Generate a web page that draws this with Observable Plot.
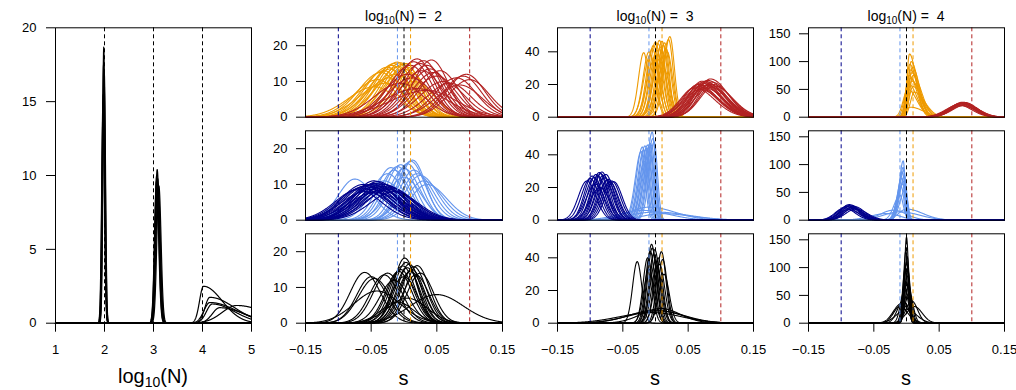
<!DOCTYPE html>
<html><head><meta charset="utf-8">
<script src="https://cdn.jsdelivr.net/npm/d3@7"></script>
<script src="https://cdn.jsdelivr.net/npm/@observablehq/plot@0.6"></script>
<style>
body{margin:0;background:#fff;}
#wrap{position:relative;width:1016px;height:390px;overflow:hidden;background:#fff;}
#wrap svg{position:absolute;left:0;top:0;}
</style></head><body><div id="wrap"></div><script>
// ---------- data ----------
// each curve: [mode, peak density, left spread, right spread]
const logNTicks = [1, 2, 3, 4, 5];
const leftDensTicks = [0, 5, 10, 15, 20];
const trueLogN = [2, 3, 4];
const sTicks = [-0.15, -0.05, 0.05, 0.15];
const trueS = [-0.1, -0.01, 0, 0.01, 0.1];
const trueSColors = ["#00008B", "#6495ED", "#000000", "#EE9A00", "#B22222"];
const nLevels = [2, 3, 4];
const yTicksByN = [[0, 10, 20], [0, 20, 40], [0, 50, 100, 150]];
const yMaxByN = [25, 54.7, 160.8];

const logNCurves = [
  [1.975, 15.5, 0.028, 0.028], [1.980, 17.5, 0.026, 0.026], [1.985, 18.7, 0.025, 0.025],
  [1.990, 16.5, 0.027, 0.027], [1.970, 15.0, 0.028, 0.028], [1.995, 17.0, 0.026, 0.026],
  [3.065, 10.0, 0.040, 0.045], [3.075, 10.4, 0.040, 0.045], [3.085, 9.8, 0.040, 0.045],
  [3.095, 9.4, 0.042, 0.045], [3.110, 9.3, 0.042, 0.045], [3.060, 9.6, 0.040, 0.045],
  [4.02, 2.5, 0.08, 0.38], [4.15, 1.75, 0.10, 0.50], [4.15, 1.4, 0.12, 0.55],
  [4.70, 1.2, 0.30, 0.60], [4.35, 1.05, 0.15, 0.50], [4.20, 1.3, 0.12, 0.45]
];

const orangeN2 = [
  [-0.040, 10.5, 0.036, 0.030], [-0.035, 12.5, 0.034, 0.028], [-0.030, 13.0, 0.033, 0.025],
  [-0.025, 14.0, 0.033, 0.025], [-0.020, 13.5, 0.034, 0.024], [-0.018, 14.5, 0.032, 0.024],
  [-0.015, 15.0, 0.031, 0.022], [-0.010, 15.4, 0.031, 0.022], [-0.008, 14.2, 0.033, 0.024],
  [-0.005, 15.2, 0.030, 0.022], [-0.002, 14.8, 0.030, 0.022], [0.000, 13.5, 0.032, 0.025],
  [0.003, 15.0, 0.029, 0.022], [0.005, 14.0, 0.030, 0.024], [-0.028, 9.5, 0.040, 0.030],
  [-0.045, 8.5, 0.040, 0.035], [-0.012, 12.0, 0.035, 0.028], [0.010, 12.5, 0.030, 0.025],
  [0.015, 10.0, 0.034, 0.030], [-0.022, 11.0, 0.035, 0.030]
];
const redN2 = [
  [0.005, 12.0, 0.035, 0.030], [0.010, 14.5, 0.033, 0.028], [0.015, 15.5, 0.031, 0.027],
  [0.020, 16.3, 0.030, 0.026], [0.025, 15.0, 0.031, 0.027], [0.030, 15.8, 0.030, 0.026],
  [0.035, 14.5, 0.031, 0.027], [0.040, 13.5, 0.032, 0.028], [0.045, 12.5, 0.032, 0.028],
  [0.050, 11.5, 0.034, 0.030], [0.020, 8.0, 0.050, 0.045], [0.035, 7.5, 0.055, 0.045],
  [0.060, 10.0, 0.035, 0.032], [0.070, 9.5, 0.035, 0.032], [0.080, 11.0, 0.033, 0.030],
  [0.090, 11.5, 0.030, 0.028], [0.095, 12.0, 0.030, 0.028], [0.100, 10.5, 0.032, 0.030],
  [0.085, 9.0, 0.036, 0.033], [0.028, 13.0, 0.034, 0.030], [0.012, 11.0, 0.036, 0.032],
  [0.042, 16.0, 0.028, 0.025], [0.055, 13.0, 0.031, 0.028], [-0.005, 9.5, 0.040, 0.035]
];
const lightBlueN2 = [
  [-0.075, 11.5, 0.025, 0.028], [-0.055, 9.0, 0.030, 0.030], [-0.040, 10.0, 0.028, 0.030],
  [-0.025, 13.0, 0.025, 0.025], [-0.020, 14.7, 0.022, 0.024], [-0.015, 14.0, 0.022, 0.024],
  [-0.010, 15.0, 0.022, 0.022], [-0.005, 15.5, 0.022, 0.022], [0.000, 14.5, 0.022, 0.024],
  [0.005, 15.8, 0.020, 0.022], [0.010, 16.5, 0.020, 0.022], [0.013, 16.8, 0.020, 0.020],
  [0.015, 14.0, 0.022, 0.024], [0.020, 13.0, 0.024, 0.025], [0.030, 11.0, 0.025, 0.028],
  [0.035, 10.0, 0.025, 0.030], [-0.030, 11.0, 0.028, 0.028], [0.000, 12.0, 0.026, 0.026],
  [-0.045, 8.0, 0.032, 0.032], [0.025, 12.5, 0.024, 0.026]
];
const navyN2 = [
  [-0.070, 8.5, 0.035, 0.035], [-0.065, 9.0, 0.035, 0.036], [-0.060, 9.5, 0.034, 0.036],
  [-0.055, 9.8, 0.035, 0.035], [-0.050, 10.0, 0.034, 0.035], [-0.048, 9.2, 0.036, 0.036],
  [-0.045, 10.3, 0.033, 0.034], [-0.042, 9.6, 0.035, 0.035], [-0.040, 10.8, 0.032, 0.033],
  [-0.038, 9.0, 0.036, 0.036], [-0.035, 10.2, 0.033, 0.034], [-0.032, 9.4, 0.035, 0.035],
  [-0.030, 10.0, 0.033, 0.034], [-0.028, 8.8, 0.036, 0.036], [-0.025, 9.5, 0.034, 0.035],
  [-0.022, 8.5, 0.037, 0.037], [-0.020, 9.0, 0.035, 0.035], [-0.058, 8.0, 0.038, 0.038],
  [-0.052, 8.6, 0.037, 0.037], [-0.036, 8.3, 0.038, 0.038], [-0.044, 7.8, 0.040, 0.040],
  [-0.015, 8.0, 0.036, 0.036], [-0.062, 10.0, 0.033, 0.034], [-0.046, 11.0, 0.030, 0.032]
];
const blackN2 = [
  [-0.060, 14.2, 0.022, 0.024], [-0.050, 13.0, 0.022, 0.024], [-0.045, 12.5, 0.024, 0.024],
  [-0.041, 9.0, 0.035, 0.035], [-0.030, 13.5, 0.022, 0.022], [-0.025, 14.0, 0.022, 0.022],
  [-0.010, 5.9, 0.025, 0.025], [-0.008, 14.5, 0.020, 0.020], [-0.005, 15.0, 0.020, 0.020],
  [-0.002, 16.0, 0.019, 0.019], [0.001, 18.2, 0.017, 0.018], [0.003, 17.0, 0.018, 0.018],
  [0.005, 15.5, 0.019, 0.019], [0.008, 16.5, 0.018, 0.018], [0.010, 14.5, 0.020, 0.020],
  [0.012, 15.0, 0.019, 0.019], [0.015, 15.8, 0.019, 0.019], [0.020, 16.1, 0.018, 0.019],
  [0.018, 13.5, 0.020, 0.020], [0.025, 14.0, 0.020, 0.020], [0.050, 8.0, 0.040, 0.040],
  [0.005, 7.0, 0.030, 0.030], [-0.015, 12.0, 0.022, 0.022], [0.000, 13.0, 0.020, 0.020]
];

const orangeN3 = [
  [-0.018, 39.5, 0.008, 0.007], [-0.010, 40.0, 0.009, 0.009], [-0.008, 38.0, 0.010, 0.009],
  [-0.005, 42.0, 0.009, 0.009], [-0.003, 44.0, 0.009, 0.008], [0.000, 46.0, 0.009, 0.008],
  [0.002, 41.0, 0.010, 0.009], [0.004, 45.0, 0.009, 0.008], [0.006, 47.0, 0.009, 0.008],
  [0.008, 43.0, 0.010, 0.008], [0.010, 46.5, 0.009, 0.008], [0.012, 44.0, 0.009, 0.008],
  [0.014, 45.5, 0.009, 0.007], [0.016, 42.0, 0.010, 0.008], [0.018, 40.0, 0.010, 0.008],
  [0.020, 47.5, 0.009, 0.007], [0.022, 49.3, 0.009, 0.007], [0.007, 36.0, 0.011, 0.010],
  [-0.002, 35.0, 0.011, 0.010], [0.012, 30.0, 0.012, 0.010]
];
const redN3 = [
  [0.060, 18.0, 0.022, 0.030], [0.063, 19.0, 0.022, 0.030], [0.065, 20.0, 0.021, 0.029],
  [0.067, 18.5, 0.023, 0.030], [0.070, 21.0, 0.021, 0.028], [0.072, 19.5, 0.022, 0.029],
  [0.074, 20.5, 0.021, 0.028], [0.076, 22.0, 0.020, 0.028], [0.078, 21.0, 0.021, 0.028],
  [0.080, 22.5, 0.020, 0.027], [0.082, 20.0, 0.021, 0.028], [0.084, 23.4, 0.020, 0.027],
  [0.086, 21.5, 0.020, 0.027], [0.088, 20.0, 0.021, 0.028], [0.090, 19.0, 0.022, 0.028],
  [0.068, 17.0, 0.024, 0.030], [0.075, 18.0, 0.023, 0.030], [0.079, 19.5, 0.022, 0.029],
  [0.071, 22.0, 0.020, 0.028], [0.083, 18.5, 0.023, 0.029]
];
const lightBlueN3 = [
  [-0.022, 42.0, 0.009, 0.006], [-0.020, 44.8, 0.009, 0.006], [-0.018, 43.0, 0.009, 0.006],
  [-0.016, 45.5, 0.009, 0.006], [-0.014, 44.0, 0.009, 0.006], [-0.012, 46.0, 0.009, 0.006],
  [-0.010, 45.0, 0.009, 0.006], [-0.008, 47.0, 0.009, 0.005], [-0.006, 46.0, 0.009, 0.005],
  [-0.005, 53.9, 0.008, 0.005], [-0.004, 50.0, 0.008, 0.005], [-0.002, 48.0, 0.008, 0.005],
  [-0.012, 38.0, 0.010, 0.007], [-0.016, 36.0, 0.010, 0.007], [-0.008, 40.0, 0.010, 0.007],
  [-0.010, 8.0, 0.030, 0.040], [0.000, 5.0, 0.040, 0.050], [-0.020, 6.0, 0.035, 0.040],
  [0.010, 4.0, 0.030, 0.045]
];
const navyN3 = [
  [-0.105, 24.0, 0.013, 0.014], [-0.100, 25.5, 0.013, 0.013], [-0.097, 27.0, 0.012, 0.013],
  [-0.094, 26.0, 0.013, 0.013], [-0.091, 28.0, 0.012, 0.013], [-0.088, 27.0, 0.012, 0.013],
  [-0.086, 29.2, 0.012, 0.012], [-0.084, 28.5, 0.012, 0.012], [-0.082, 29.5, 0.012, 0.012],
  [-0.080, 27.5, 0.012, 0.013], [-0.078, 26.0, 0.013, 0.013], [-0.076, 28.0, 0.012, 0.012],
  [-0.074, 24.5, 0.013, 0.013], [-0.072, 25.0, 0.013, 0.013], [-0.070, 23.5, 0.013, 0.013],
  [-0.067, 24.0, 0.013, 0.013], [-0.064, 23.6, 0.013, 0.013], [-0.092, 22.0, 0.014, 0.014],
  [-0.085, 20.0, 0.015, 0.015]
];
const blackN3 = [
  [-0.028, 37.7, 0.007, 0.007], [-0.012, 40.0, 0.007, 0.007], [-0.008, 44.0, 0.007, 0.007],
  [-0.006, 48.3, 0.007, 0.007], [-0.005, 46.0, 0.007, 0.007], [-0.003, 42.0, 0.007, 0.007],
  [-0.001, 45.0, 0.007, 0.007], [0.000, 38.0, 0.008, 0.008], [0.002, 35.0, 0.008, 0.008],
  [0.004, 40.0, 0.007, 0.007], [0.006, 36.0, 0.008, 0.008], [0.009, 43.8, 0.007, 0.007],
  [0.011, 39.0, 0.007, 0.007], [0.013, 30.0, 0.008, 0.008], [-0.010, 33.0, 0.008, 0.008],
  [0.000, 8.0, 0.040, 0.040], [0.005, 7.5, 0.045, 0.040], [-0.005, 6.5, 0.050, 0.045],
  [0.008, 9.0, 0.030, 0.030]
];

const orangeN4 = [
  [0.003, 60.0, 0.006, 0.013], [0.004, 75.0, 0.005, 0.012], [0.0046, 113.7, 0.004, 0.010],
  [0.005, 95.0, 0.005, 0.011], [0.006, 85.0, 0.005, 0.012], [0.006, 70.0, 0.006, 0.013],
  [0.007, 100.0, 0.004, 0.011], [0.008, 80.0, 0.005, 0.012], [0.008, 65.0, 0.006, 0.014],
  [0.009, 90.0, 0.005, 0.011], [0.010, 75.0, 0.005, 0.013], [0.010, 55.0, 0.006, 0.015],
  [0.012, 45.0, 0.006, 0.016], [0.006, 18.0, 0.008, 0.020], [0.002, 50.0, 0.007, 0.014]
];
const redN4 = [
  [0.080, 22.0, 0.020, 0.020], [0.082, 24.0, 0.019, 0.020], [0.084, 25.0, 0.019, 0.019],
  [0.085, 26.0, 0.018, 0.019], [0.086, 27.0, 0.018, 0.019], [0.087, 25.5, 0.019, 0.019],
  [0.088, 24.5, 0.019, 0.020], [0.089, 26.5, 0.018, 0.019], [0.090, 23.0, 0.020, 0.020],
  [0.083, 21.5, 0.021, 0.021], [0.091, 22.5, 0.020, 0.020], [0.086, 20.5, 0.021, 0.021]
];
const lightBlueN4 = [
  [-0.008, 60.0, 0.007, 0.004], [-0.007, 75.0, 0.007, 0.004], [-0.006, 85.0, 0.007, 0.0035],
  [-0.005, 106.7, 0.006, 0.003], [-0.005, 95.0, 0.006, 0.003], [-0.004, 90.0, 0.007, 0.003],
  [-0.004, 70.0, 0.008, 0.004], [-0.003, 80.0, 0.007, 0.0035], [-0.006, 65.0, 0.008, 0.004],
  [-0.002, 55.0, 0.008, 0.004], [-0.010, 45.0, 0.009, 0.005],
  [-0.020, 18.0, 0.020, 0.020], [-0.010, 15.0, 0.025, 0.030], [0.000, 20.0, 0.012, 0.025],
  [-0.030, 12.0, 0.025, 0.020]
];
const navyN4 = [
  [-0.095, 22.0, 0.014, 0.016], [-0.092, 24.0, 0.014, 0.016], [-0.090, 26.0, 0.013, 0.016],
  [-0.088, 28.0, 0.013, 0.015], [-0.087, 25.0, 0.014, 0.016], [-0.085, 27.0, 0.013, 0.015],
  [-0.084, 23.0, 0.014, 0.017], [-0.082, 21.0, 0.015, 0.017], [-0.080, 24.5, 0.014, 0.016],
  [-0.078, 20.0, 0.015, 0.018], [-0.089, 19.0, 0.015, 0.017]
];
const blackN4 = [
  [0.000, 155.0, 0.003, 0.003], [-0.001, 130.0, 0.0035, 0.0035], [0.001, 120.0, 0.0035, 0.0035],
  [0.000, 110.0, 0.004, 0.004], [-0.002, 100.0, 0.004, 0.004], [0.002, 95.0, 0.004, 0.004],
  [0.001, 85.0, 0.0045, 0.0045], [-0.001, 75.0, 0.005, 0.005], [0.003, 70.0, 0.005, 0.005],
  [-0.003, 60.0, 0.006, 0.006], [0.004, 55.0, 0.006, 0.006], [-0.005, 40.0, 0.009, 0.009],
  [0.008, 40.0, 0.009, 0.009], [-0.008, 35.0, 0.012, 0.012], [0.012, 30.0, 0.012, 0.012],
  [0.000, 25.0, 0.015, 0.015], [-0.010, 30.0, 0.010, 0.012]
];

// ---------- layout ----------
const W = 1016, H = 390;
const FONT = "'Liberation Sans', Arial, Helvetica, sans-serif";
const colLeft = [305, 557, 808], colRight = [502, 753, 1004];
const rowTop = [27.3, 130.3, 233.3], boxH = 89.4;
const ORANGE = "#EE9A00", RED = "#B22222", LBLUE = "#6495ED", NAVY = "#00008B", BLACK = "#000000";

const panelsByN = [
  [[[orangeN2, ORANGE], [redN2, RED]], [[lightBlueN2, LBLUE], [navyN2, NAVY]], [[blackN2, BLACK]]],
  [[[orangeN3, ORANGE], [redN3, RED]], [[lightBlueN3, LBLUE], [navyN3, NAVY]], [[blackN3, BLACK]]],
  [[[orangeN4, ORANGE], [redN4, RED]], [[lightBlueN4, LBLUE], [navyN4, NAVY]], [[blackN4, BLACK]]]
];

const sGrid = d3.range(-0.15, 0.15 + 1e-9, 0.0005);
const nGrid = d3.range(1, 5 + 1e-9, 0.004);

function curveRows(list, grid) {
  const out = [];
  list.forEach(([mu, pk, sl, sr], id) => {
    for (const x of grid) {
      const sd = x < mu ? sl : sr;
      out.push({x, y: pk * Math.exp(-0.5 * ((x - mu) / sd) ** 2), id});
    }
  });
  return out;
}
const fmtS = d => (d < 0 ? "\u2212" : "") + Math.abs(d).toFixed(2);
const wrap = document.getElementById("wrap");
const TICKFONT = "13px";

// left panel
{
  const L = 55, R = 251, T = 27.3, B = 322.7;
  const svg = Plot.plot({
    width: W, height: H,
    marginLeft: L, marginRight: W - R, marginTop: T, marginBottom: H - B,
    style: {background: "transparent", fontFamily: FONT, fontSize: TICKFONT, color: "black", overflow: "visible"},
    x: {domain: [1, 5], ticks: logNTicks, tickSize: 9, tickPadding: 13, label: null, tickFormat: d => String(d)},
    y: {domain: [0, 20], ticks: leftDensTicks, tickSize: 9, tickPadding: 10, label: null, tickFormat: d => String(d)},
    marks: [
      Plot.line(curveRows(logNCurves, nGrid), {x: "x", y: "y", z: "id", stroke: BLACK, strokeWidth: 1.2}),
      Plot.ruleX(trueLogN, {stroke: BLACK, strokeDasharray: "4,3", strokeWidth: 1}),
      Plot.frame({stroke: BLACK, strokeWidth: 1})
    ]
  });
  wrap.appendChild(svg);
}

// 3x3 grid of s panels
nLevels.forEach((n, c) => {
  panelsByN[c].forEach((layers, r) => {
    const L = colLeft[c], R = colRight[c], T = rowTop[r], B = T + boxH;
    const marks = layers.map(([list, color]) =>
      Plot.line(curveRows(list, sGrid), {x: "x", y: "y", z: "id", stroke: color, strokeWidth: 1.1}));
    trueS.forEach((v, i) => marks.push(Plot.ruleX([v], {stroke: trueSColors[i], strokeDasharray: "4,3", strokeWidth: 1})));
    marks.push(Plot.frame({stroke: BLACK, strokeWidth: 1}));
    const svg = Plot.plot({
      width: W, height: H,
      marginLeft: L, marginRight: W - R, marginTop: T, marginBottom: H - B,
      style: {background: "transparent", fontFamily: FONT, fontSize: TICKFONT, color: "black", overflow: "visible"},
      x: {domain: [-0.15, 0.15], ticks: sTicks, tickSize: 9, tickPadding: 13, label: null, tickFormat: fmtS, axis: r === 2 ? "bottom" : null},
      y: {domain: [0, yMaxByN[c]], ticks: yTicksByN[c], tickSize: 9, tickPadding: 9, label: null, tickFormat: d => String(d)},
      marks
    });
    wrap.appendChild(svg);
  });
});

// text overlay
const ov = d3.select(wrap).append("svg").attr("width", W).attr("height", H)
  .style("font-family", FONT).style("position", "absolute").style("left", 0).style("top", 0);
function logLabel(x, y, size, subSize, dy, rest) {
  const t = ov.append("text").attr("x", x).attr("y", y).attr("text-anchor", "middle")
    .attr("font-size", size).attr("fill", "black");
  t.append("tspan").text("log");
  t.append("tspan").attr("font-size", subSize).attr("dy", dy).text("10");
  t.append("tspan").attr("dy", -dy).text(rest);
}
nLevels.forEach((n, c) => {
  const cx = (colLeft[c] + colRight[c]) / 2;
  logLabel(cx, 21, 14, 10, 3, "(N) = \u00a0" + String(n));
  ov.append("text").attr("x", cx).attr("y", 385).attr("text-anchor", "middle")
    .attr("font-size", 20).text("s");
});
logLabel(153, 383, 20, 14, 4, "(N)");
</script></body></html>
